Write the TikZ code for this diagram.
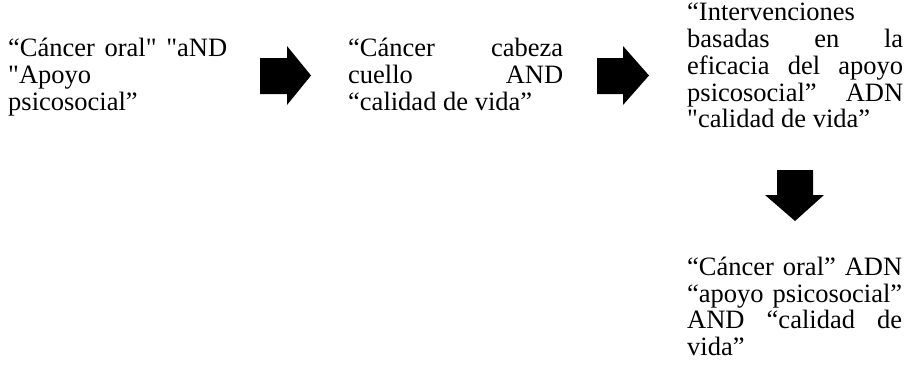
\documentclass[tikz,border=0pt]{standalone}
\usepackage{fontspec}
\newfontfamily\tnr{Liberation Serif}
\hyphenpenalty=10000
\exhyphenpenalty=10000
\newcommand\jline[2]{\makebox[#1][s]{#2}}
\begin{document}
\begin{tikzpicture}[x=1pt,y=-1pt,
  txt/.style={anchor=north west,inner sep=0pt,align=left,
    font=\tnr\fontsize{26.5}{26.8}\selectfont},
  blockarrow/.style={fill=black,draw=none}]
\useasboundingbox[fill=white] (0,0) rectangle (906,370);
% text blocks (first baseline = north + 22)
\node[txt] (a) at (8,34.5) {\rule{0pt}{22pt}\jline{219pt}{“Cáncer oral" "aND}\\"Apoyo\\psicosocial”};
\node[txt] (b) at (348,34.5) {\rule{0pt}{22pt}\jline{215pt}{“Cáncer cabeza}\\\jline{215pt}{cuello AND}\\“calidad de vida”};
\node[txt] (c) at (687,-1.5) {\rule{0pt}{22pt}“Intervenciones\\\jline{216pt}{basadas en la}\\\jline{216pt}{eficacia del apoyo}\\\jline{216pt}{psicosocial” ADN}\\"calidad de vida”};
\node[txt] (d) at (687,253) {\rule{0pt}{22pt}\jline{215pt}{“Cáncer oral” ADN}\\\jline{215pt}{“apoyo psicosocial”}\\\jline{215pt}{AND “calidad de}\\vida”};
% block arrows
\fill[blockarrow] (260,58) -- (287,58) -- (287,46) -- (311,75.5) -- (287,105) -- (287,94) -- (260,94) -- cycle;
\fill[blockarrow] (597,58) -- (623,58) -- (623,46) -- (649,75.5) -- (623,105) -- (623,94) -- (597,94) -- cycle;
\fill[blockarrow] (777,170) -- (813,170) -- (813,195) -- (824,195) -- (795,221) -- (765,195) -- (777,195) -- cycle;
\end{tikzpicture}
\end{document}
